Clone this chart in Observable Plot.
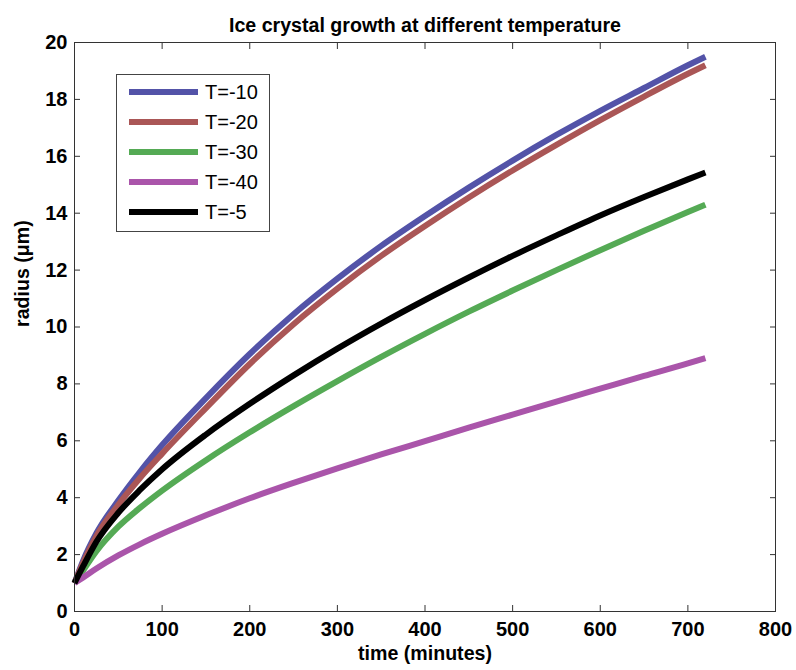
<!DOCTYPE html>
<html>
<head>
<meta charset="utf-8">
<script src="https://cdn.jsdelivr.net/npm/d3@7"></script>
<script src="https://cdn.jsdelivr.net/npm/@observablehq/plot@0.6"></script>
<style>
  body { margin: 0; background: #fff; }
  #chart svg { display: block; }
</style>
</head>
<body>
<div id="chart"></div>
<script>
// Sample times (minutes) shared by every curve
const minutes = [0, 10, 25, 50, 75, 100, 150, 200, 250, 300, 350, 400, 450, 500, 550, 600, 650, 700, 720];

// Crystal radius (µm) for each temperature
const radiusT10 = [1.0, 1.8, 2.75, 3.9, 4.92, 5.85, 7.5, 9.05, 10.45, 11.7, 12.85, 13.9, 14.9, 15.85, 16.75, 17.6, 18.4, 19.2, 19.5];
const radiusT20 = [1.0, 1.72, 2.65, 3.75, 4.7, 5.55, 7.15, 8.7, 10.1, 11.35, 12.5, 13.55, 14.55, 15.5, 16.4, 17.27, 18.1, 18.9, 19.2];
const radiusT30 = [1.0, 1.45, 2.12, 2.98, 3.65, 4.25, 5.32, 6.3, 7.22, 8.1, 8.95, 9.76, 10.54, 11.28, 12.0, 12.7, 13.38, 14.04, 14.3];
const radiusT40 = [1.0, 1.2, 1.51, 1.97, 2.37, 2.73, 3.38, 3.98, 4.52, 5.03, 5.52, 5.99, 6.46, 6.92, 7.38, 7.83, 8.28, 8.72, 8.91];
const radiusT5  = [1.0, 1.6, 2.45, 3.47, 4.28, 5.0, 6.22, 7.3, 8.3, 9.24, 10.12, 10.95, 11.74, 12.5, 13.22, 13.92, 14.57, 15.19, 15.43];

const seriesLabels = ["T=-10", "T=-20", "T=-30", "T=-40", "T=-5"];
const seriesColors = ["#5353a8", "#aa5656", "#55aa55", "#aa55aa", "#000000"];
const seriesRadii = [radiusT10, radiusT20, radiusT30, radiusT40, radiusT5];

const xTicks = [0, 100, 200, 300, 400, 500, 600, 700, 800];
const yTicks = [0, 2, 4, 6, 8, 10, 12, 14, 16, 18, 20];

const titleText = "Ice crystal growth at different temperature";
const xLabel = "time (minutes)";
const yLabel = "radius (\u03bcm)";

// Long-format rows for the line marks
const rows = seriesLabels.flatMap((label, s) =>
  minutes.map((t, i) => ({ t, r: seriesRadii[s][i], label }))
);

const fontFamily = "'Liberation Sans', Arial, Helvetica, sans-serif";
const axisColor = "#333";
const blank = () => "";

const chart = Plot.plot({
  width: 796,
  height: 670,
  marginLeft: 74,
  marginRight: 21,
  marginTop: 42,
  marginBottom: 59,
  style: { fontFamily, fontSize: "20px", fontWeight: "bold", color: "#000", background: "#fff" },
  x: { domain: [0, 800] },
  y: { domain: [0, 20] },
  marks: [
    // one thick line per temperature, later series drawn on top
    ...seriesLabels.map((label, s) =>
      Plot.line(rows.filter(d => d.label === label), {
        x: "t", y: "r", curve: "monotone-x",
        stroke: seriesColors[s], strokeWidth: 6,
        strokeLinecap: "butt", strokeLinejoin: "round"
      })
    ),
    Plot.frame({ stroke: axisColor, strokeWidth: 1 }),
    // tick labels
    Plot.axisX(xTicks, { anchor: "bottom", tickSize: 0, tickPadding: 10, label: null }),
    Plot.axisY(yTicks, { anchor: "left", tickSize: 0, tickPadding: 7, label: null }),
    // inward ticks on all four sides
    Plot.axisX(xTicks, { anchor: "bottom", tickSize: 6, dy: -6, tickFormat: blank, stroke: axisColor, label: null }),
    Plot.axisX(xTicks, { anchor: "top", tickSize: 6, dy: 6, tickFormat: blank, stroke: axisColor, label: null }),
    Plot.axisY(yTicks, { anchor: "left", tickSize: 6, dx: 6, tickFormat: blank, stroke: axisColor, label: null }),
    Plot.axisY(yTicks, { anchor: "right", tickSize: 6, dx: -6, tickFormat: blank, stroke: axisColor, label: null }),
    // title and axis titles
    Plot.text([titleText], { text: d => d, frameAnchor: "top", dy: -24, fontSize: 19.6, fontWeight: "bold" }),
    Plot.text([xLabel], { text: d => d, frameAnchor: "bottom", dy: 48, fontSize: 19.6, fontWeight: "bold" }),
    Plot.text([yLabel], { text: d => d, frameAnchor: "left", dx: -52, rotate: -90, fontSize: 19.6, fontWeight: "bold" })
  ]
});

// Legend box in the upper-left corner of the plot area
const svg = d3.select(chart);
const legend = svg.append("g")
  .attr("font-family", fontFamily)
  .attr("font-size", 20)
  .attr("font-weight", "normal")
  .attr("text-anchor", "start");
legend.append("rect")
  .attr("x", 116.5).attr("y", 74.5).attr("width", 153).attr("height", 157)
  .attr("fill", "#fff").attr("stroke", "#444").attr("stroke-width", 1);
seriesLabels.forEach((label, i) => {
  const cy = 92 + i * 30;
  legend.append("line")
    .attr("x1", 129).attr("x2", 198).attr("y1", cy).attr("y2", cy)
    .attr("stroke", seriesColors[i]).attr("stroke-width", 6);
  legend.append("text")
    .attr("x", 205).attr("y", cy).attr("dy", "0.35em")
    .attr("text-anchor", "start")
    .attr("fill", "#000").text(label);
});

document.getElementById("chart").append(chart);
</script>
</body>
</html>
